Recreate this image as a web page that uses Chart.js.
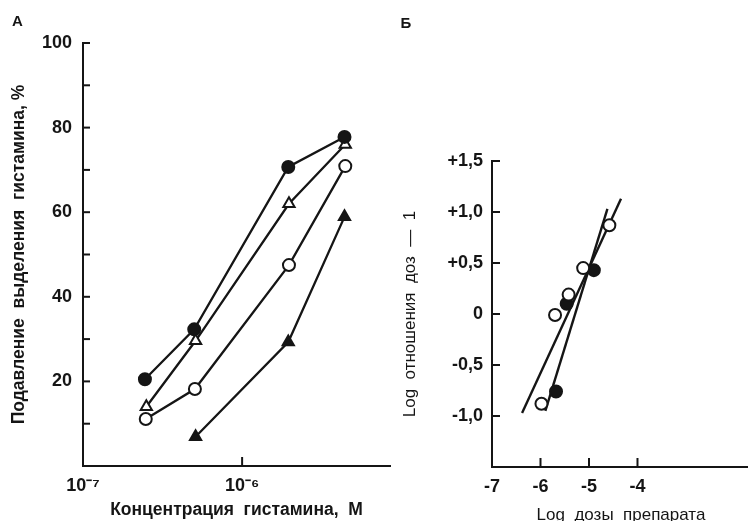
<!DOCTYPE html>
<html>
<head>
<meta charset="utf-8">
<script src="https://cdn.jsdelivr.net/npm/chart.js@4.4.1/dist/chart.umd.min.js"></script>
<style>
  html, body { margin: 0; padding: 0; background: #fff; overflow: hidden; }
  #wrap { position: relative; width: 748px; height: 521px; overflow: hidden; }
  canvas { position: absolute; top: 0; }
  #histamine { left: 0; }
  #doses { left: 380px; }
</style>
</head>
<body>
<div id="wrap">
  <canvas id="histamine" width="400" height="521"></canvas>
  <canvas id="doses" width="378" height="521"></canvas>
</div>
<script>
// Panel А: suppression of histamine release (%) vs histamine concentration (M)
const concBlackCircle = [2.45e-7, 5.0e-7, 1.95e-6, 4.4e-6];
const releaseBlackCircle = [20.5, 32.3, 70.7, 77.8];
const concOpenTriangle = [2.5e-7, 5.1e-7, 1.97e-6, 4.45e-6];
const releaseOpenTriangle = [14.0, 29.6, 62.0, 76.0];
const concOpenCircle = [2.48e-7, 5.05e-7, 1.97e-6, 4.45e-6];
const releaseOpenCircle = [11.1, 18.2, 47.5, 70.9];
const concBlackTriangle = [5.1e-7, 1.95e-6, 4.4e-6];
const releaseBlackTriangle = [6.9, 29.3, 58.9];
const concTicks = [1e-7, 1e-6];

// Panel Б: log(dose ratio - 1) vs log dose of the drug
const logDoseOpen = [-5.98, -5.70, -5.42, -5.12, -4.58];
const logRatioOpen = [-0.88, -0.01, 0.19, 0.45, 0.87];
const logDoseFilled = [-5.68, -5.46, -4.90];
const logRatioFilled = [-0.76, 0.10, 0.43];
const fitShallowX = [-6.38, -4.34];
const fitShallowY = [-0.97, 1.13];
const fitSteepX = [-5.90, -4.62];
const fitSteepY = [-0.95, 1.03];
const doseTicks = [-7, -6, -5, -4];
const ratioTicks = [-1.5, -1, -0.5, 0, 0.5, 1, 1.5];

const INK = '#151515';
const FAMILY = '"Liberation Sans", Arial, sans-serif';
const tickFont = { family: FAMILY, size: 18, weight: 'bold' };
const pairs = (xs, ys) => xs.map((x, i) => ({ x: x, y: ys[i] }));

const SUP = { '-': '\u207B', '0': '\u2070', '1': '\u00B9', '2': '\u00B2', '3': '\u00B3', '4': '\u2074',
              '5': '\u2075', '6': '\u2076', '7': '\u2077', '8': '\u2078', '9': '\u2079' };
const sup = n => String(n).split('').map(c => SUP[c]).join('');

// inward tick marks + panel letter, drawn on top of each chart
function frame(letter, lx, ly, tickLens) {
  return {
    id: 'frame',
    afterDraw(chart) {
      const ctx = chart.ctx;
      ctx.save();
      ctx.strokeStyle = INK;
      ctx.lineWidth = 2;
      for (const id in tickLens) {
        const scale = chart.scales[id];
        const len = tickLens[id];
        scale.ticks.forEach(t => {
          const p = scale.getPixelForValue(t.value);
          ctx.beginPath();
          if (scale.isHorizontal()) {
            ctx.moveTo(p, scale.top);
            ctx.lineTo(p, scale.top - len);
          } else {
            ctx.moveTo(scale.right, p);
            ctx.lineTo(scale.right + len, p);
          }
          ctx.stroke();
        });
      }
      ctx.fillStyle = INK;
      ctx.font = 'bold 15px ' + FAMILY;
      ctx.textAlign = 'center';
      ctx.textBaseline = 'middle';
      ctx.fillText(letter, lx, ly);
      ctx.restore();
    }
  };
}

function series(data, style, filled, radius, order) {
  return {
    data: data,
    showLine: true,
    borderColor: INK,
    borderWidth: 2.3,
    pointStyle: style,
    pointRadius: radius,
    pointBorderWidth: 2,
    pointBorderColor: INK,
    pointBackgroundColor: filled ? INK : '#fff',
    order: order
  };
}

Chart.defaults.animation = false;
Chart.defaults.color = INK;

new Chart(document.getElementById('histamine'), {
  type: 'scatter',
  data: {
    datasets: [
      series(pairs(concBlackCircle, releaseBlackCircle), 'circle', true, 6, 1),
      series(pairs(concOpenTriangle, releaseOpenTriangle), 'triangle', false, 6.5, 2),
      series(pairs(concOpenCircle, releaseOpenCircle), 'circle', false, 6, 3),
      series(pairs(concBlackTriangle, releaseBlackTriangle), 'triangle', true, 6.5, 4)
    ]
  },
  options: {
    responsive: false,
    devicePixelRatio: 1,
    layout: { padding: { left: 0, right: 10, top: 43, bottom: 0 } },
    plugins: { legend: { display: false }, tooltip: { enabled: false } },
    scales: {
      x: {
        type: 'logarithmic',
        min: 1e-7,
        max: 8.5e-6,
        afterFit: s => { s.height = 55; },
        afterBuildTicks: s => { s.ticks = concTicks.map(v => ({ value: v })); },
        grid: { display: false },
        border: { color: INK, width: 2 },
        ticks: {
          autoSkip: false, maxRotation: 0, padding: 1, color: INK, font: tickFont,
          callback: v => '10' + sup(Math.round(Math.log10(v)))
        },
        title: {
          display: true, text: 'Концентрация  гистамина,  М', color: INK,
          font: { family: FAMILY, size: 17.5, weight: 'bold', lineHeight: 1 },
          padding: { top: 0, bottom: 2 }
        }
      },
      y: {
        min: 0,
        max: 100,
        afterFit: s => { s.width = 83; },
        grid: { display: false },
        border: { color: INK, width: 2 },
        ticks: {
          stepSize: 10, padding: 3, color: INK, font: tickFont,
          callback: v => (v > 0 && v % 20 === 0) ? String(v) : ''
        },
        title: {
          display: true, text: 'Подавление  выделения  гистамина, %', color: INK,
          font: { family: FAMILY, size: 17.5, weight: 'bold', lineHeight: 1 },
          padding: { top: 10, bottom: 0 }
        }
      }
    }
  },
  plugins: [frame('А', 17.5, 22, { x: 9, y: 7 })]
});

new Chart(document.getElementById('doses'), {
  type: 'scatter',
  data: {
    datasets: [
      series(pairs(logDoseOpen, logRatioOpen), 'circle', false, 6, 1),
      series(pairs(logDoseFilled, logRatioFilled), 'circle', true, 6, 2),
      Object.assign(series(pairs(fitShallowX, fitShallowY), 'circle', true, 0, 3), { borderWidth: 2.4 }),
      Object.assign(series(pairs(fitSteepX, fitSteepY), 'circle', true, 0, 4), { borderWidth: 2.4 })
    ].map(d => Object.assign(d, d.order > 2 ? {} : { showLine: false }))
  },
  options: {
    responsive: false,
    devicePixelRatio: 1,
    layout: { padding: { left: 0, right: 0, top: 161, bottom: 0 } },
    plugins: { legend: { display: false }, tooltip: { enabled: false } },
    scales: {
      x: {
        type: 'linear',
        min: -7,
        max: -1.68,
        afterFit: s => { s.height = 54; },
        afterBuildTicks: s => { s.ticks = doseTicks.map(v => ({ value: v })); },
        grid: { display: false },
        border: { color: INK, width: 2 },
        ticks: { autoSkip: false, maxRotation: 0, padding: 1, color: INK, font: tickFont,
                 callback: v => String(v) },
        title: {
          display: true, text: 'Log  дозы  препарата', color: INK,
          font: { family: FAMILY, size: 17, weight: 'normal', lineHeight: 0.7 },
          padding: { top: 0, bottom: 0 }
        }
      },
      y: {
        min: -1.5,
        max: 1.5,
        afterFit: s => { s.width = 112; },
        afterBuildTicks: s => { s.ticks = ratioTicks.map(v => ({ value: v })); },
        grid: { display: false },
        border: { color: INK, width: 2 },
        ticks: {
          padding: 1, color: INK, font: tickFont,
          callback: v => {
            if (v <= -1.5) return '';
            if (Math.abs(v) < 1e-9) return '0';
            return (v > 0 ? '+' : '-') + Math.abs(v).toFixed(1).replace('.', ',');
          }
        },
        title: {
          display: true, text: 'Log  отношения  доз  —  1', color: INK,
          font: { family: FAMILY, size: 17, weight: 'normal', lineHeight: 1.2 },
          padding: { top: 20, bottom: 0 }
        }
      }
    }
  },
  plugins: [frame('Б', 26, 24, { x: 9, y: 8 })]
});
</script>
</body>
</html>
